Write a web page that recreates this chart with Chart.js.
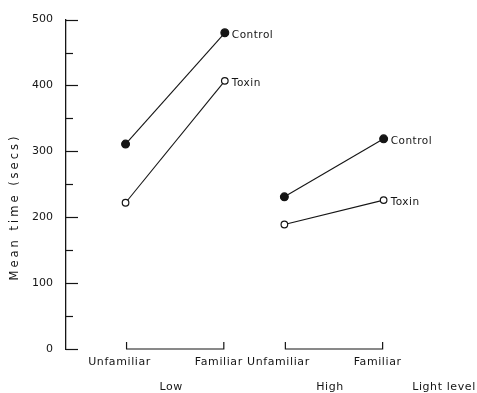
<!DOCTYPE html>
<html>
<head>
<meta charset="utf-8">
<script src="https://cdn.jsdelivr.net/npm/chart.js@4"></script>
<style>
  html, body { margin: 0; padding: 0; background: #fff; }
  #wrap { width: 477px; height: 393px; }
</style>
</head>
<body>
<div id="wrap"><canvas id="chart" width="477" height="393"></canvas></div>
<script>
// values
const lightLevels = ['Low', 'High'];
const conditions = ['Unfamiliar', 'Familiar'];
const seriesNames = ['Control', 'Toxin'];
const lowControl = [311, 480];
const lowToxin = [222, 407];
const highControl = [231, 319];
const highToxin = [189, 226];
const yTickValues = [0, 100, 200, 300, 400, 500];

const ink = '#151515';
const font = 'DejaVu Sans';

// x position of each group's first condition on the linear x scale
const groupStart = [0, 1.6];

function pointsFor(values, group) {
    return values.map((v, i) => ({ x: groupStart[group] + i, y: v }));
}

function makeSet(name, values, group, open) {
    return {
        label: name + ' (' + lightLevels[group] + ')',
        seriesName: name,
        data: pointsFor(values, group),
        showLine: true,
        borderColor: ink,
        borderWidth: 1.1,
        pointRadius: open ? 3.3 : 3.9,
        pointBorderWidth: 1.2,
        pointBorderColor: ink,
        pointBackgroundColor: open ? '#fff' : ink,
        tension: 0
    };
}

const annotate = {
    id: 'annotate',
    afterDraw(chart) {
        const ctx = chart.ctx;
        const ys = chart.scales.y;
        const xs = chart.scales.x;
        const left = chart.chartArea.left;
        ctx.save();
        ctx.strokeStyle = ink;
        ctx.fillStyle = ink;
        ctx.lineWidth = 1.2;

        // inward ticks on the y axis, short ones at the 50s
        for (let v = 0; v <= 500; v += 50) {
            const y = Math.round(ys.getPixelForValue(v)) + 0.5;
            const len = yTickValues.includes(v) ? 12 : 7;
            ctx.beginPath();
            ctx.moveTo(left, y);
            ctx.lineTo(left + len, y);
            ctx.stroke();
        }

        // y axis title
        ctx.save();
        ctx.translate(15, 207);
        ctx.rotate(-Math.PI / 2);
        ctx.font = '11.5px "' + font + '"';
        ctx.letterSpacing = '3px';
        ctx.textAlign = 'center';
        ctx.textBaseline = 'middle';
        ctx.fillText('Mean time (secs)', 0, 0);
        ctx.restore();

        // series names beside the last point of each line
        ctx.font = '10.5px "' + font + '"';
        ctx.letterSpacing = '0.5px';
        ctx.textAlign = 'left';
        ctx.textBaseline = 'middle';
        chart.data.datasets.forEach((ds, i) => {
            const meta = chart.getDatasetMeta(i);
            const last = meta.data[meta.data.length - 1];
            ctx.fillText(ds.seriesName, last.x + 7, last.y + 2);
        });

        // brackets and labels below each light level
        const base = ys.getPixelForValue(0);
        lightLevels.forEach((lvl, g) => {
            const x0 = xs.getPixelForValue(groupStart[g]) + 1;
            const x1 = xs.getPixelForValue(groupStart[g] + 1) - 1;
            ctx.beginPath();
            ctx.moveTo(x0, base - 7);
            ctx.lineTo(x0, base);
            ctx.lineTo(x1, base);
            ctx.lineTo(x1, base - 7);
            ctx.stroke();

            ctx.font = '11px "' + font + '"';
            ctx.letterSpacing = '0.6px';
            ctx.textAlign = 'center';
            conditions.forEach((c, i) => {
                const x = xs.getPixelForValue(groupStart[g] + i);
                ctx.fillText(c, x - 6, base + 13);
            });
            ctx.fillText(lvl, (x0 + x1) / 2 - 4, base + 38);
        });
        ctx.fillText('Light level', 444, base + 38);
        ctx.restore();
    }
};

new Chart(document.getElementById('chart'), {
    type: 'scatter',
    data: {
        datasets: [
            makeSet(seriesNames[0], lowControl, 0, false),
            makeSet(seriesNames[1], lowToxin, 0, true),
            makeSet(seriesNames[0], highControl, 1, false),
            makeSet(seriesNames[1], highToxin, 1, true)
        ]
    },
    options: {
        responsive: false,
        animation: false,
        layout: { padding: { top: 13, bottom: 44, left: 0, right: 9 } },
        plugins: {
            legend: { display: false },
            tooltip: { enabled: false }
        },
        scales: {
            x: {
                type: 'linear',
                display: false,
                min: -0.6,
                max: 3.45
            },
            y: {
                min: 0,
                max: 500,
                afterFit: (scale) => { scale.width = 66; },
                grid: { display: false, drawTicks: false },
                border: { display: true, color: ink, width: 1.3 },
                ticks: {
                    stepSize: 50,
                    padding: 13,
                    color: ink,
                    font: { family: font, size: 11 },
                    callback: (v) => yTickValues.includes(v) ? String(v) : ''
                }
            }
        }
    },
    plugins: [annotate]
});
</script>
</body>
</html>
